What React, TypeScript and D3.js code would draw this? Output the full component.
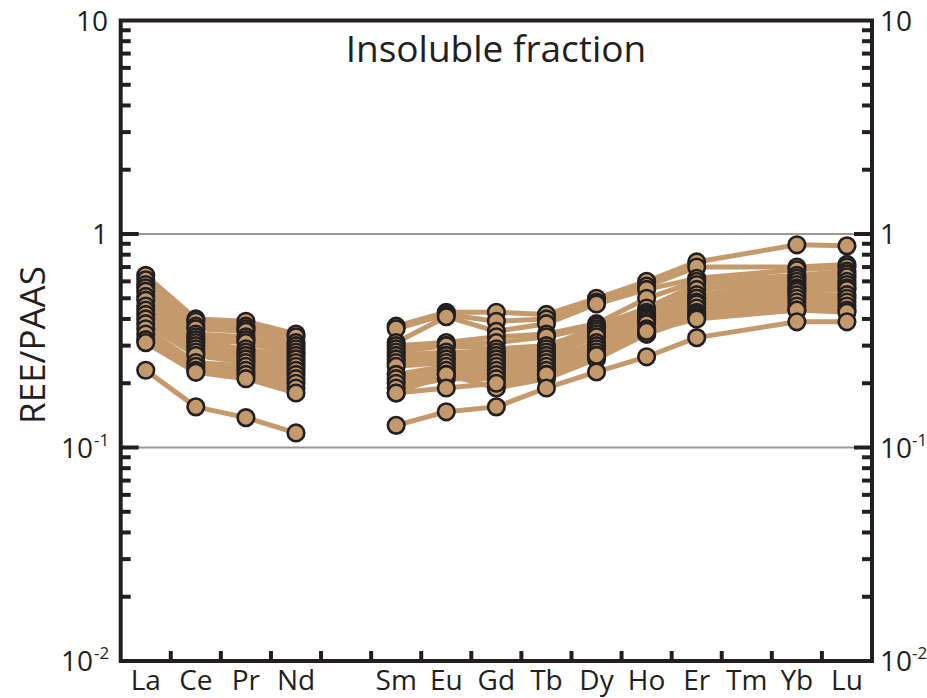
import React from 'react';
import * as d3 from 'd3';

// REE elements (Pm and Tm not measured)
const elements = ['La', 'Ce', 'Pr', 'Nd', 'Pm', 'Sm', 'Eu', 'Gd', 'Tb', 'Dy', 'Ho', 'Er', 'Tm', 'Yb', 'Lu'];
const labelled = ['La', 'Ce', 'Pr', 'Nd', 'Sm', 'Eu', 'Gd', 'Tb', 'Dy', 'Ho', 'Er', 'Tm', 'Yb', 'Lu'];

// REE/PAAS per sample, order: La Ce Pr Nd Pm Sm Eu Gd Tb Dy Ho Er Tm Yb Lu
const samples: (number | null)[][] = [
  [0.64, 0.40, 0.39, 0.34, null, 0.37, 0.43, 0.43, 0.42, 0.50, 0.60, 0.74, null, 0.89, 0.88],
  [0.61, 0.39, 0.37, 0.33, null, 0.36, 0.42, 0.39, 0.40, 0.48, 0.57, 0.70, null, 0.70, 0.72],
  [0.58, 0.37, 0.36, 0.31, null, 0.31, 0.41, 0.35, 0.38, 0.47, 0.55, 0.62, null, 0.68, 0.70],
  [0.56, 0.36, 0.35, 0.30, null, 0.30, 0.31, 0.33, 0.34, 0.38, 0.50, 0.60, null, 0.64, 0.67],
  [0.54, 0.34, 0.33, 0.29, null, 0.29, 0.30, 0.31, 0.33, 0.37, 0.45, 0.58, null, 0.62, 0.65],
  [0.51, 0.33, 0.32, 0.28, null, 0.28, 0.30, 0.29, 0.30, 0.36, 0.43, 0.55, null, 0.60, 0.63],
  [0.49, 0.32, 0.31, 0.27, null, 0.27, 0.28, 0.28, 0.29, 0.35, 0.42, 0.52, null, 0.58, 0.60],
  [0.46, 0.31, 0.29, 0.26, null, 0.26, 0.27, 0.27, 0.28, 0.34, 0.41, 0.50, null, 0.56, 0.58],
  [0.44, 0.30, 0.28, 0.25, null, 0.25, 0.26, 0.26, 0.27, 0.33, 0.40, 0.50, null, 0.55, 0.56],
  [0.42, 0.29, 0.27, 0.24, null, 0.24, 0.25, 0.25, 0.26, 0.31, 0.39, 0.48, null, 0.54, 0.55],
  [0.40, 0.28, 0.26, 0.23, null, 0.22, 0.24, 0.24, 0.25, 0.30, 0.38, 0.47, null, 0.52, 0.52],
  [0.38, 0.27, 0.25, 0.22, null, 0.21, 0.23, 0.23, 0.24, 0.29, 0.36, 0.45, null, 0.50, 0.50],
  [0.36, 0.25, 0.24, 0.21, null, 0.20, 0.22, 0.22, 0.23, 0.28, 0.35, 0.43, null, 0.48, 0.48],
  [0.34, 0.24, 0.23, 0.20, null, 0.19, 0.21, 0.21, 0.22, 0.27, 0.34, 0.42, null, 0.46, 0.46],
  [0.32, 0.23, 0.22, 0.19, null, 0.18, 0.22, 0.19, 0.21, 0.26, 0.34, 0.41, null, 0.44, 0.44],
  [0.31, 0.225, 0.21, 0.18, null, 0.18, 0.19, 0.20, 0.22, 0.27, 0.35, 0.40, null, 0.44, 0.43],
  [0.23, 0.155, 0.138, 0.117, null, 0.127, 0.147, 0.155, 0.19, 0.226, 0.266, 0.327, null, 0.388, 0.388],
];

const yTicks = [10, 1, 0.1, 0.01];
const yTickText = [['10', ''], ['1', ''], ['10', '-1'], ['10', '-2']];
const gridValues = [1, 0.1];

const W = 927;
const H = 698;
const left = 120.7;
const right = 872;
const top = 20.5;
const bottom = 661;
const font = '"Open Sans", "Noto Sans", sans-serif';
const tan = '#c49a6c';

const App = () => {
  const x = d3.scaleBand<string>().domain(elements).range([left, right]);
  const cx = (el: string) => (x(el) as number) + x.bandwidth() / 2;
  const y = d3.scaleLog().domain([0.01, 10]).range([bottom, top]);

  // minor log ticks
  const minor: number[] = [];
  [0.01, 0.1, 1].forEach((d) => {
    for (let k = 2; k <= 9; k++) minor.push(d * k);
  });

  // lines, skipping Pm but bridging Tm (Er to Yb)
  const lineFor = (s: (number | null)[]) => {
    const lree = elements.slice(0, 4).map((e, i) => [cx(e), y(s[i] as number)] as [number, number]);
    const hree: [number, number][] = [];
    elements.forEach((e, i) => {
      if (i > 4 && s[i] != null) hree.push([cx(e), y(s[i] as number)]);
    });
    const line = d3.line();
    return (line(lree) || '') + (line(hree) || '');
  };

  const bounds = elements.slice(1).map((e) => x(e) as number);

  return (
    <svg width={W} height={H} style={{ position: 'absolute', left: 0, top: 0, background: '#fff' }}>
      {gridValues.map((g) => (
        <line key={g} x1={left} x2={right} y1={y(g)} y2={y(g)} stroke="#999" strokeWidth={2} />
      ))}

      {samples.map((s, i) => (
        <path key={i} d={lineFor(s)} fill="none" stroke={tan} strokeWidth={5} strokeLinejoin="round" />
      ))}

      {samples.map((s, i) =>
        s.map((v, j) =>
          v == null ? null : (
            <circle key={`${i}-${j}`} cx={cx(elements[j])} cy={y(v)} r={8.3} fill={tan} stroke="#231f20" strokeWidth={2.6} />
          )
        )
      )}

      {/* axis ticks */}
      {minor.map((m) => (
        <g key={m}>
          <line x1={left} x2={left + 10} y1={y(m)} y2={y(m)} stroke="#231f20" strokeWidth={4} />
          <line x1={right} x2={right - 10} y1={y(m)} y2={y(m)} stroke="#231f20" strokeWidth={4} />
        </g>
      ))}
      {gridValues.map((g) => (
        <g key={`M${g}`}>
          <line x1={left} x2={left + 18} y1={y(g)} y2={y(g)} stroke="#231f20" strokeWidth={4} />
          <line x1={right} x2={right - 18} y1={y(g)} y2={y(g)} stroke="#231f20" strokeWidth={4} />
        </g>
      ))}
      {bounds.map((b, i) => (
        <line key={i} x1={b} x2={b} y1={bottom} y2={bottom - 10} stroke="#231f20" strokeWidth={4} />
      ))}

      {/* frame */}
      <rect x={left} y={top} width={right - left} height={bottom - top} fill="none" stroke="#231f20" strokeWidth={4} />

      {/* y tick labels both sides */}
      {yTicks.map((t, i) => (
        <g key={t} fontFamily={font} fontSize={28} fill="#231f20">
          <text x={yTickText[i][1] ? 93 : 108} y={y(t) + 10} textAnchor="end">
            {yTickText[i][0]}
          </text>
          {yTickText[i][1] && (
            <text x={94} y={y(t) - 2} fontSize={17}>
              {yTickText[i][1]}
            </text>
          )}
          <text x={880} y={y(t) + 10}>
            {yTickText[i][0]}
            {yTickText[i][1] && (
              <tspan fontSize={17} dy={-12}>
                {yTickText[i][1]}
              </tspan>
            )}
          </text>
        </g>
      ))}

      {/* x labels */}
      {labelled.map((e) => (
        <text key={e} x={cx(e)} y={690} textAnchor="middle" fontFamily={font} fontSize={28} fill="#231f20">
          {e}
        </text>
      ))}

      <text x={496} y={62} textAnchor="middle" fontFamily={font} fontSize={37} fill="#231f20">
        Insoluble fraction
      </text>
      <text
        transform={`translate(45, ${345}) rotate(-90)`}
        textAnchor="middle"
        fontFamily={font}
        fontSize={35}
        fill="#231f20"
      >
        REE/PAAS
      </text>
    </svg>
  );
};

export default App;
